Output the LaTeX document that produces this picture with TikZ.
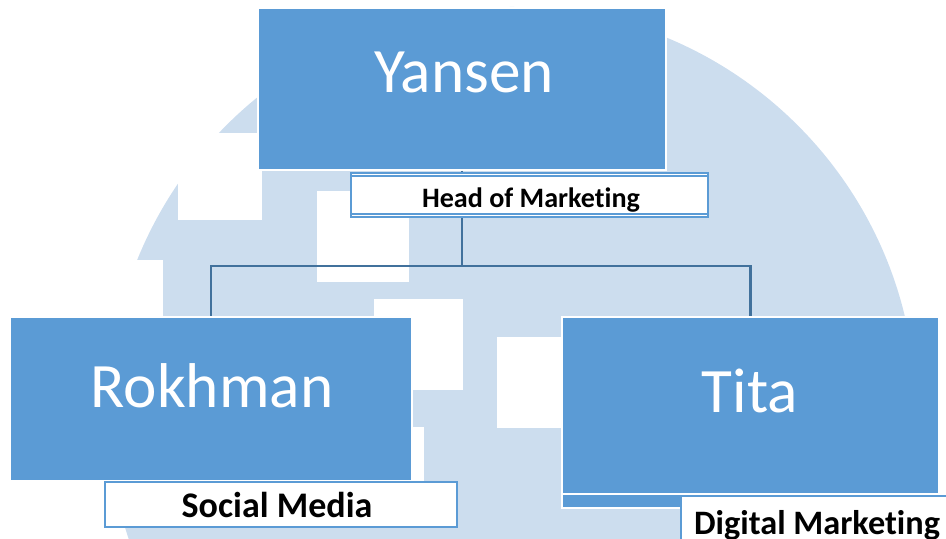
\documentclass[tikz,border=0pt]{standalone}
\usepackage{fontspec}
\setmainfont[Ligatures=NoCommon]{Carlito}
\definecolor{boxblue}{HTML}{5B9BD5}
\definecolor{linkblue}{HTML}{41719C}
\definecolor{markblue}{HTML}{CCDDEE}
\tikzset{
  personbox/.style={draw=white, line width=0.040000cm, fill=boxblue, inner sep=0pt},
  rolebox/.style={draw=boxblue, line width=0.040000cm, fill=white, inner sep=0pt},
  orgline/.style={draw=linkblue, line width=0.045000cm},
  nametext/.style={text=white, font=\fontsize{36}{40}\selectfont, anchor=base, inner sep=0pt},
  roletext/.style={text=black, font=\bfseries\fontsize{20.5}{24}\selectfont, anchor=base, inner sep=0pt},
}
\begin{document}
\begin{tikzpicture}
            \useasboundingbox (0,0) rectangle (18.920000,10.780000);
            \begin{scope}
            \clip (0,0) rectangle (18.920000,10.780000);
            
            % Drawing watermark disc
            \fill [markblue] (10.240000,2.560000) circle (8.080000);%
            
            % Cutting watermark blocks
            \fill [white] (3.560000,6.380000) rectangle (5.240000,8.120000);%
            \fill [white] (6.340000,5.140000) rectangle (8.180000,6.960000);%
            \fill [white] (7.480000,2.980000) rectangle (9.260000,4.800000);%
            \fill [white] (9.940000,2.220000) rectangle (11.240000,4.040000);%
            \fill [white] (7.600000,0.480000) rectangle (8.480000,2.240000);%
            \fill [white] (2.000000,4.420000) rectangle (3.260000,5.580000);%
            \end{scope}
            
            % Placing person boxes
            \node [personbox, minimum width=8.160000cm, minimum height=3.240000cm] (yansen) at (9.240000,9.000000) {};%
            \node [personbox, minimum width=8.040000cm, minimum height=3.280000cm] (rokhman) at (4.220000,2.800000) {};%
            \node [personbox, minimum width=7.540000cm, minimum height=3.820000cm] (tita) at (15.010000,2.530000) {};%
            \draw [white, line width=0.040000cm] ([yshift=0.300000cm]tita.south west) -- ([yshift=0.300000cm]tita.south east);%
            
            % Drawing branch lines
            \coordinate (split) at (9.240000,5.460000);%
            \draw [orgline] (yansen.south) -- (split);%
            \draw [orgline] (split) -| (rokhman.north);%
            \draw [orgline] (split) -| (tita.north);%
            
            % Placing role boxes
            \node [rolebox, minimum width=7.140000cm, minimum height=0.880000cm] (headrole) at (10.590000,6.880000) {};%
            \draw [boxblue, line width=0.040000cm] ([yshift=-0.080000cm]headrole.north west) -- ([yshift=-0.080000cm]headrole.north east);%
            \draw [boxblue, line width=0.040000cm] ([yshift=0.080000cm]headrole.south west) -- ([yshift=0.080000cm]headrole.south east);%
            \node [rolebox, minimum width=7.040000cm, minimum height=0.900000cm] (socialrole) at (5.620000,0.690000) {};%
            \node [rolebox, minimum width=5.380000cm, minimum height=0.980000cm] (digitalrole) at (16.310000,0.370000) {};%
            
            % Marking names
            \node [nametext] (yansenname) at (9.280000,8.920000) {Yansen};%
            \node [nametext] (rokhmanname) at (4.240000,2.620000) {Rokhman};%
            \node [nametext] (titaname) at (15.000000,2.520000) {Tita};%
            
            % Marking roles
            \node [roletext, font=\bfseries\fontsize{16}{19}\selectfont] (headtext) at (10.620000,6.620000) {Head of Marketing};%
            \node [roletext] (socialtext) at (5.540000,0.420000) {Social Media};%
            \node [roletext, font=\bfseries\fontsize{19.5}{23}\selectfont] (digitaltext) at (16.340000,0.080000) {Digital Marketing};%
        \end{tikzpicture}
\end{document}
